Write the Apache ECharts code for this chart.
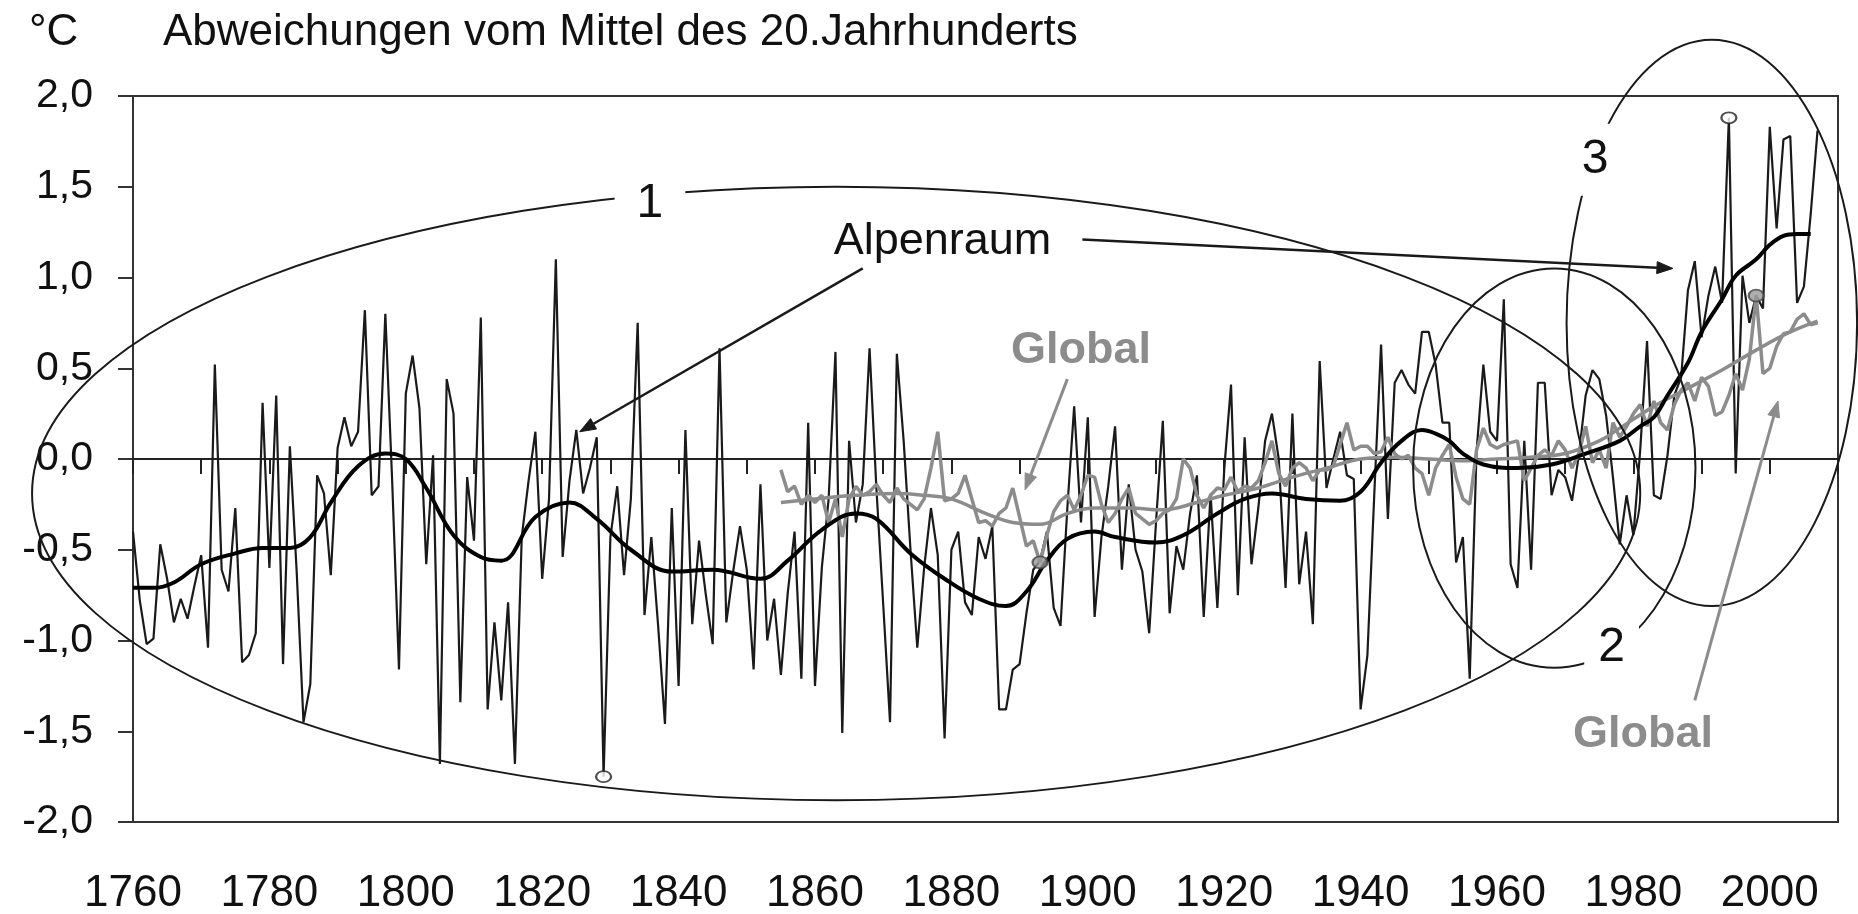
<!DOCTYPE html>
<html lang="de">
<head>
<meta charset="utf-8">
<title>Temperaturabweichungen Alpenraum und global</title>
<script src="https://cdn.jsdelivr.net/npm/echarts@6/dist/echarts.min.js"></script>
<style>
  html, body { margin: 0; padding: 0; background: #ffffff; }
  #chart { width: 1858px; height: 914px; }
</style>
</head>
<body>
<div id="chart"></div>
<script>
// ---- Jahreswerte Alpenraum (°C, Abweichung vom Mittel 1901–2000), ab 1760 ----
const ALPS_FIRST_YEAR = 1760;
const alpsAnnual = [
  -0.40,-0.78,-1.02,-0.99,-0.47,-0.66,-0.90,-0.77,-0.88,-0.70, // 1760
  -0.53,-1.04, 0.52,-0.61,-0.73,-0.27,-1.12,-1.08,-0.96, 0.31, // 1770
  -0.60, 0.35,-1.13, 0.07,-0.62,-1.45,-1.24,-0.09,-0.19,-0.64, // 1780
   0.06, 0.23, 0.07, 0.15, 0.82,-0.20,-0.15, 0.80,-0.12,-1.16, // 1790
   0.36, 0.57, 0.28,-0.58, 0.02,-1.68, 0.44, 0.25,-1.34,-0.10, // 1800
  -0.45, 0.78,-1.38,-0.90,-1.33,-0.79,-1.68,-0.43,-0.12, 0.15, // 1810
  -0.66,-0.22, 1.10,-0.54,-0.12, 0.16,-0.19,-0.05, 0.12,-1.75, // 1820
  -0.43,-0.15,-0.64,-0.22, 0.75,-0.86,-0.43,-0.92,-1.46,-0.27, // 1830
  -1.25, 0.16,-0.91,-0.45,-0.75,-1.02, 0.61,-0.90,-0.62,-0.37, // 1840
  -0.61,-1.16,-0.14,-1.00,-0.77,-1.19,-0.74,-0.40,-1.21, 0.20, // 1850
  -1.25,-0.60,-0.22, 0.59,-1.51, 0.10,-0.35,-0.14, 0.61,-0.16, // 1860
  -0.80,-1.45, 0.58, 0.10,-0.50,-1.04,-0.60,-0.27,-0.53,-1.54, // 1870
  -0.50,-0.40,-0.79,-0.86,-0.43,-0.55,-0.37,-1.38,-1.38,-1.16, // 1880
  -1.13,-0.85,-0.61,-0.56,-0.40,-0.82,-0.92,-0.27, 0.29,-0.35, // 1890
   0.23,-0.87,-0.43,-0.15, 0.18,-0.61,-0.14,-0.50,-0.62,-0.96, // 1900
  -0.35, 0.21,-0.85,-0.48,-0.61,-0.30,-0.09,-0.87,-0.19,-0.82, // 1910
  -0.06, 0.41,-0.75, 0.12,-0.58,-0.27, 0.10, 0.25, 0.00,-0.71, // 1920
   0.25,-0.69,-0.40,-0.91, 0.54,-0.16, 0.00, 0.15,-0.09,-0.11, // 1930
  -1.38,-1.08,-0.20, 0.63,-0.33, 0.42, 0.49, 0.41, 0.36, 0.70, // 1940
   0.70, 0.52, 0.20, 0.20,-0.57,-0.43,-1.21, 0.04, 0.52, 0.15, // 1950
   0.10, 0.88,-0.58,-0.71, 0.10,-0.61, 0.42, 0.42,-0.20,-0.06, // 1960
  -0.10,-0.23, 0.02, 0.35, 0.49, 0.44, 0.24,-0.10,-0.47,-0.20, // 1970
  -0.42, 0.05, 0.65,-0.20,-0.22, 0.02, 0.35, 0.45, 0.93, 1.09, // 1980
   0.67, 0.90, 1.06, 0.86, 1.88,-0.08, 1.01, 0.75, 0.90, 0.83, // 1990
   1.83, 1.27, 1.76, 1.78, 0.86, 0.95, 1.35, 1.81              // 2000
];

// ---- Geglättete Kurve Alpenraum ----
const alpsSmoothYears = [
  1760,1763,1766,1770,1775,1779,1783,1786,1789,1793,
  1797,1800,1803,1807,1811,1814,1819,1824,1828,1833,
  1839,1845,1852,1856,1861,1866,1869,1874,1879,1884,
  1888,1891,1894,1897,1901,1904,1910,1914,1919,1923,
  1927,1932,1937,1940,1943,1946,1949,1951,1953,1955,
  1958,1963,1968,1973,1978,1981,1983,1985,1988,1990,
  1993,1995,1998,2000,2002,2004,2006
];
const alpsSmoothValues = [
  -0.71,-0.71,-0.68,-0.58,-0.52,-0.49,-0.49,-0.43,-0.24,-0.04,
   0.03, 0.00,-0.16,-0.42,-0.54,-0.56,-0.32,-0.24,-0.33,-0.50,
  -0.62,-0.61,-0.66,-0.56,-0.39,-0.30,-0.33,-0.52,-0.66,-0.77,
  -0.81,-0.73,-0.56,-0.44,-0.40,-0.43,-0.46,-0.42,-0.30,-0.22,
  -0.19,-0.22,-0.23,-0.18,-0.02, 0.10, 0.16, 0.14, 0.10, 0.03,
  -0.03,-0.05,-0.03, 0.03, 0.10, 0.18, 0.23, 0.35, 0.53, 0.70,
   0.88, 1.01, 1.10, 1.18, 1.23, 1.24, 1.24
];

// ---- Jahreswerte global, ab 1855 ----
const GLOBAL_FIRST_YEAR = 1855;
const globalAnnual = [
  -0.06,-0.18,-0.15,-0.25,-0.20,                               // 1855
  -0.24,-0.20,-0.35,-0.22,-0.43,-0.22,-0.15,-0.20,-0.18,-0.14, // 1860
  -0.20,-0.24,-0.16,-0.22,-0.25,-0.28,-0.22,-0.05, 0.15,-0.23, // 1870
  -0.22,-0.19,-0.09,-0.22,-0.35,-0.34,-0.37,-0.30,-0.27,-0.16, // 1880
  -0.32,-0.48,-0.45,-0.57,-0.42,-0.29,-0.23,-0.20,-0.28,-0.20, // 1890
  -0.09,-0.10,-0.25,-0.35,-0.30,-0.22,-0.16,-0.30,-0.33,-0.36, // 1900
  -0.34,-0.30,-0.28,-0.22, 0.00,-0.05,-0.20,-0.27,-0.20,-0.16, // 1910
  -0.17,-0.10,-0.18,-0.15,-0.16,-0.12,-0.02, 0.10,-0.08,-0.15, // 1920
  -0.05,-0.02,-0.05,-0.12,-0.06,-0.06,-0.04, 0.08, 0.20, 0.05, // 1930
   0.07, 0.07, 0.03, 0.04, 0.12, 0.03, 0.00, 0.02,-0.05,-0.08, // 1940
  -0.20,-0.05, 0.02, 0.08,-0.10,-0.22,-0.25, 0.05, 0.17, 0.08, // 1950
   0.06, 0.08, 0.09, 0.10,-0.12,-0.05, 0.02, 0.05, 0.02, 0.10, // 1960
   0.05,-0.05, 0.03, 0.18,-0.02, 0.05,-0.05, 0.20, 0.12, 0.18, // 1970
   0.25, 0.30, 0.18, 0.32, 0.20, 0.16, 0.30, 0.38, 0.42, 0.32, // 1980
   0.45, 0.40, 0.24, 0.26, 0.35, 0.47, 0.38, 0.55, 0.90, 0.47, // 1990
   0.50, 0.62, 0.69, 0.70, 0.77, 0.80, 0.74, 0.75              // 2000
];

// ---- Geglättete Kurve global ----
const globalSmoothYears = [
  1855,1860,1866,1872,1876,1880,1885,1889,1893,1897,
  1901,1906,1911,1916,1920,1925,1930,1935,1940,1945,
  1950,1955,1960,1965,1970,1975,1978,1983,1988,1993,
  1998,2003,2007
];
const globalSmoothValues = [
  -0.24,-0.22,-0.20,-0.19,-0.20,-0.22,-0.30,-0.35,-0.36,-0.30,
  -0.27,-0.27,-0.28,-0.24,-0.20,-0.16,-0.10,-0.05, 0.00, 0.01,
   0.00,-0.01, 0.00, 0.01, 0.03, 0.10, 0.17, 0.29, 0.39, 0.49,
   0.60, 0.70, 0.76
];

// Extremjahre, mit Kreisen markiert
const alpsExtremeYears = [1829, 1994];
const globalExtremeYears = [1893, 1998];

// ---- Achsen ----
const X_MIN = 1760, X_MAX = 2010, X_LABEL_STEP = 20, X_ZERO_TICK_STEP = 10;
const Y_MIN = -2, Y_MAX = 2, Y_STEP = 0.5;

// ---- Beschriftungen und Markierungen (Jahr, °C) ----
const ringCenters = [[1863.1, -0.19], [1968.4, -0.05], [1991.5, 0.75]];
const ringRadii   = [[117.9, 1.69], [20.7, 1.10], [21.3, 1.56]];   // Jahre, °C
const ringLabels  = ['1', '2', '3'];
const ringLabelAt = [[1835.8, 1.42], [1976.8, -1.03], [1974.4, 1.66]];
const ringLabelPad = [[6, 22], [8, 14], [12, 8]];

const seriesLabels   = ['Alpenraum', 'Global', 'Global'];
const seriesLabelAt  = [[1878.7, 1.21], [1899.0, 0.61], [1981.4, -1.51]];
const seriesLabelRole = ['alps', 'global', 'global'];

const arrowFrom = [[1867.0, 1.05], [1899.2, 1.21], [1897.0, 0.44], [1989.0, -1.33]];
const arrowTo   = [[1825.5, 0.15], [1985.8, 1.05], [1890.8, -0.17], [2001.2, 0.32]];
const arrowRole = ['alps', 'alps', 'global', 'global'];

// ---- Stil ----
const FONT = '"Liberation Sans", Arial, Helvetica, sans-serif';
const INK = '#111111';
const FRAME = '#333333';
const GREY = '#8c8c8c';

const toPairs = (first, values) => values.map((v, i) => [first + i, v]);
const zipPairs = (xs, ys) => xs.map((x, i) => [x, ys[i]]);

const chart = echarts.init(document.getElementById('chart'), null, { renderer: 'canvas' });

const option = {
  animation: false,
  backgroundColor: '#ffffff',
  title: [
    { text: '°C', left: 29, top: 11, padding: 0,
      textStyle: { fontFamily: FONT, fontSize: 44, fontWeight: 'normal', color: INK } },
    { text: 'Abweichungen vom Mittel des 20.Jahrhunderts', left: 163, top: 11, padding: 0,
      textStyle: { fontFamily: FONT, fontSize: 44, fontWeight: 'normal', color: INK } }
  ],
  grid: {
    left: 133, right: 20, top: 96, bottom: 92,
    show: true, borderColor: FRAME, borderWidth: 2,
    containLabel: false, outerBoundsMode: 'none'
  },
  xAxis: [
    {
      type: 'value', min: X_MIN, max: X_MAX, interval: X_LABEL_STEP,
      position: 'bottom',
      axisLine: { show: true, onZero: false, lineStyle: { color: FRAME, width: 2 } },
      axisTick: { show: false },
      splitLine: { show: false },
      axisLabel: {
        show: true, showMaxLabel: false, margin: 50,
        fontFamily: FONT, fontSize: 44, color: INK,
        formatter: v => String(Math.round(v))
      }
    },
    {
      // Nulllinie mit Teilstrichen
      type: 'value', min: X_MIN, max: X_MAX, interval: X_ZERO_TICK_STEP,
      position: 'bottom',
      axisLine: { show: true, onZero: true, lineStyle: { color: '#222222', width: 2 } },
      axisTick: { show: true, inside: false, length: 15, lineStyle: { color: '#222222', width: 2 } },
      splitLine: { show: false },
      axisLabel: { show: false }
    }
  ],
  yAxis: {
    type: 'value', min: Y_MIN, max: Y_MAX, interval: Y_STEP,
    axisLine: { show: true, onZero: false, lineStyle: { color: FRAME, width: 2 } },
    axisTick: { show: true, inside: false, length: 15, lineStyle: { color: FRAME, width: 2 } },
    splitLine: { show: false },
    axisLabel: {
      margin: 40, fontFamily: FONT, fontSize: 41, color: INK,
      formatter: v => v.toFixed(1).replace('.', ',')
    }
  },
  series: [
    {
      name: 'Alpenraum', type: 'line', xAxisIndex: 0,
      data: toPairs(ALPS_FIRST_YEAR, alpsAnnual),
      showSymbol: false, symbol: 'none', z: 2,
      lineStyle: { color: '#1a1a1a', width: 2.2 }
    },
    {
      name: 'Global', type: 'line', xAxisIndex: 0,
      data: toPairs(GLOBAL_FIRST_YEAR, globalAnnual),
      showSymbol: false, symbol: 'none', z: 3,
      lineStyle: { color: GREY, width: 3.5 }
    },
    {
      name: 'Global geglättet', type: 'line', xAxisIndex: 0,
      data: zipPairs(globalSmoothYears, globalSmoothValues),
      showSymbol: false, symbol: 'none', smooth: 0.4, z: 4,
      lineStyle: { color: GREY, width: 3.5 }
    },
    {
      name: 'Alpenraum geglättet', type: 'line', xAxisIndex: 0,
      data: zipPairs(alpsSmoothYears, alpsSmoothValues),
      showSymbol: false, symbol: 'none', smooth: 0.4, z: 5,
      lineStyle: { color: '#000000', width: 4 }
    },
    {
      name: 'Extreme Alpenraum', type: 'scatter', xAxisIndex: 0,
      data: alpsExtremeYears.map(y => [y, alpsAnnual[y - ALPS_FIRST_YEAR]]),
      symbol: 'circle', symbolSize: [15, 11], z: 6,
      itemStyle: { color: '#ffffff', borderColor: '#222222', borderWidth: 2 }
    },
    {
      name: 'Extreme global', type: 'scatter', xAxisIndex: 0,
      data: globalExtremeYears.map(y => [y, globalAnnual[y - GLOBAL_FIRST_YEAR]]),
      symbol: 'circle', symbolSize: [15, 12], z: 6,
      itemStyle: { color: '#9a9a9a', borderColor: '#444444', borderWidth: 2 }
    }
  ]
};

chart.setOption(option);

// Ellipsen, Pfeile und Beschriftungen in Datenkoordinaten platzieren
function addAnnotations() {
  const P = pt => chart.convertToPixel({ xAxisIndex: 0, yAxisIndex: 0 }, pt);
  const o = P([1900, 0]);
  const sx = P([1901, 0])[0] - o[0];
  const sy = o[1] - P([1900, 1])[1];
  const els = [];

  ringCenters.forEach((c, i) => {
    const p = P(c);
    els.push({
      type: 'ellipse', z: 100, silent: true,
      shape: { cx: p[0], cy: p[1], rx: ringRadii[i][0] * sx, ry: ringRadii[i][1] * sy },
      style: { fill: 'none', stroke: '#1a1a1a', lineWidth: 2 }
    });
  });

  arrowFrom.forEach((a, i) => {
    const p0 = P(a), p1 = P(arrowTo[i]);
    const color = arrowRole[i] === 'global' ? GREY : '#1a1a1a';
    const width = arrowRole[i] === 'global' ? 3 : 2.5;
    const dx = p1[0] - p0[0], dy = p1[1] - p0[1];
    const len = Math.hypot(dx, dy);
    const ux = dx / len, uy = dy / len;
    const headLen = 16, headHalf = 6;
    const bx = p1[0] - ux * headLen, by = p1[1] - uy * headLen;
    els.push({
      type: 'line', z: 105, silent: true,
      shape: { x1: p0[0], y1: p0[1], x2: bx, y2: by },
      style: { stroke: color, lineWidth: width }
    });
    els.push({
      type: 'polygon', z: 105, silent: true,
      shape: { points: [[p1[0], p1[1]], [bx - uy * headHalf, by + ux * headHalf], [bx + uy * headHalf, by - ux * headHalf]] },
      style: { fill: color, stroke: color, lineWidth: 1 }
    });
  });

  ringLabels.forEach((t, i) => {
    const p = P(ringLabelAt[i]);
    els.push({
      type: 'text', z: 110, silent: true, x: p[0], y: p[1] + 2,
      style: {
        text: t, font: '48px ' + FONT, fill: INK,
        align: 'center', verticalAlign: 'middle',
        backgroundColor: '#ffffff', padding: ringLabelPad[i]
      }
    });
  });

  seriesLabels.forEach((t, i) => {
    const p = P(seriesLabelAt[i]);
    const isGlobal = seriesLabelRole[i] === 'global';
    els.push({
      type: 'text', z: 110, silent: true, x: p[0], y: p[1] + 2,
      style: {
        text: t,
        font: (isGlobal ? 'bold ' : '') + '45px ' + FONT,
        fill: isGlobal ? GREY : INK,
        align: 'center', verticalAlign: 'middle'
      }
    });
  });

  chart.setOption({ graphic: els });
}

addAnnotations();
</script>
</body>
</html>
